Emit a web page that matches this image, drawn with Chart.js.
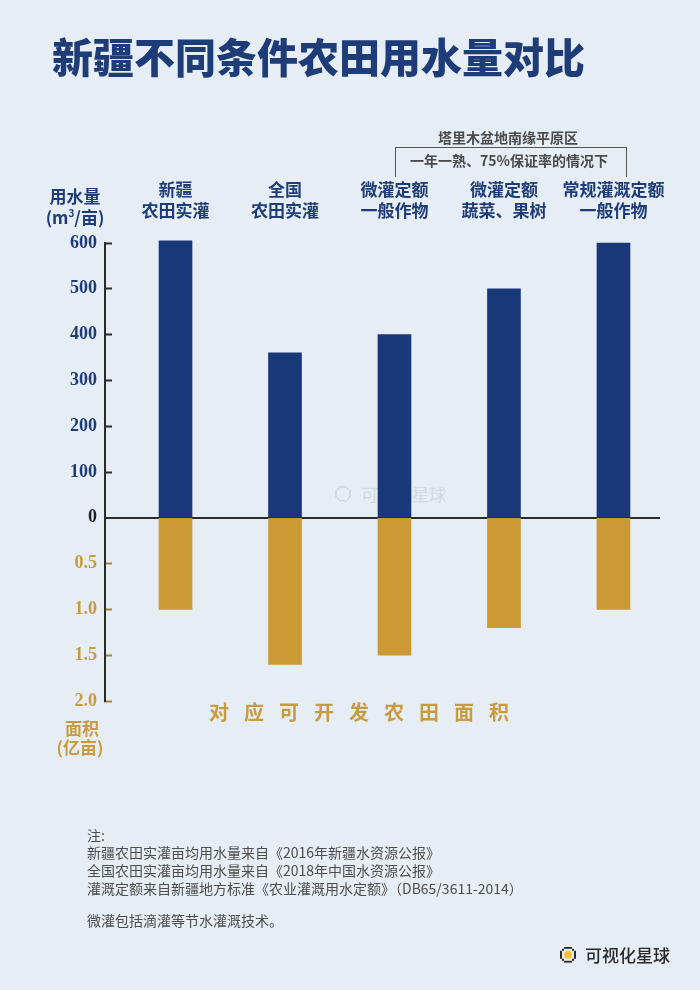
<!DOCTYPE html>
<html>
<head>
<meta charset="utf-8">
<script src="https://cdn.jsdelivr.net/npm/chart.js@4.4.1/dist/chart.umd.min.js"></script>
<style>
  html,body{margin:0;padding:0;background:#e6edf5;}
  #wrap{position:relative;width:700px;height:990px;overflow:hidden;background:#e6edf5;font-family:"Noto Sans CJK SC","Noto Sans",sans-serif;}
  #c{position:absolute;left:0;top:0;z-index:1;}
  .t{position:absolute;white-space:nowrap;line-height:1.2;z-index:2;}
  .cx{transform:translate(-50%,-50%);}
  .cy{transform:translateY(-50%);}
  .navy{color:#1d3c78;}
  .gold{color:#c89c3e;}
  .note{font-size:14px;color:#4d4d4d;left:87px;}
  #wm{z-index:0;}
</style>
</head>
<body>
<div id="wrap">
  <!-- watermark (behind bars) -->
  <div class="t cy" id="wm" style="left:335px;top:494px;font-size:17px;color:#d3d9e1;display:flex;align-items:center;gap:10px;">
    <svg width="16" height="16" viewBox="0 0 8 8"><g fill="#d3d9e1"><rect x="2" y="0" width="4" height="1"/><rect x="2" y="7" width="4" height="1"/><rect x="0" y="2" width="1" height="4"/><rect x="7" y="2" width="1" height="4"/><rect x="1" y="1" width="1" height="1"/><rect x="6" y="1" width="1" height="1"/><rect x="1" y="6" width="1" height="1"/><rect x="6" y="6" width="1" height="1"/></g></svg>
    <span>可视化星球</span>
  </div>

  <canvas id="c" width="700" height="990"></canvas>

  <div class="t cy navy" style="left:52px;top:56px;font-size:41px;font-weight:900;">新疆不同条件农田用水量对比</div>

  <div class="t cx" style="left:508px;top:137px;font-size:14px;font-weight:700;color:#4a4a4a;">塔里木盆地南缘平原区</div>
  <div style="position:absolute;left:395px;top:147px;width:230px;height:29px;border:1.5px solid #555;border-bottom:none;z-index:2;"></div>
  <div class="t cx" style="left:509px;top:160px;font-size:14px;font-weight:700;color:#4a4a4a;">一年一熟、75%保证率的情况下</div>

  <div class="t cx navy" style="left:75px;top:196px;font-size:17px;font-weight:700;">用水量</div>
  <div class="t cx navy" style="left:75px;top:217px;font-size:17px;font-weight:700;">(m<sup style="font-size:10px;">3</sup>/亩)</div>

  <div class="t cx gold" style="left:82px;top:728px;font-size:17px;font-weight:700;">面积</div>
  <div class="t cx gold" style="left:80px;top:747px;font-size:17px;font-weight:700;">(亿亩)</div>

  <div class="t cy gold" style="left:209px;top:712px;font-size:20px;font-weight:700;letter-spacing:15px;">对应可开发农田面积</div>

  <div class="t cy note" style="top:835px;">注:</div>
  <div class="t cy note" style="top:852px;">新疆农田实灌亩均用水量来自《2016年新疆水资源公报》</div>
  <div class="t cy note" style="top:870px;">全国农田实灌亩均用水量来自《2018年中国水资源公报》</div>
  <div class="t cy note" style="top:888px;">灌溉定额来自新疆地方标准《农业灌溉用水定额》（DB65/3611-2014）</div>
  <div class="t cy note" style="top:920px;">微灌包括滴灌等节水灌溉技术。</div>

  <div class="t cy" style="left:560px;top:955px;font-size:17px;color:#2a2a2a;font-weight:500;display:flex;align-items:center;gap:9px;">
    <svg width="16" height="16" viewBox="0 0 8 8"><g fill="#2a2a2a"><rect x="2" y="0" width="4" height="1"/><rect x="2" y="7" width="4" height="1"/><rect x="0" y="2" width="1" height="4"/><rect x="7" y="2" width="1" height="4"/><rect x="1" y="1" width="1" height="1"/><rect x="6" y="1" width="1" height="1"/><rect x="1" y="6" width="1" height="1"/><rect x="6" y="6" width="1" height="1"/></g><circle cx="4" cy="4" r="2" fill="#f2c230"/></svg>
    <span>可视化星球</span>
  </div>
</div>

<script>
// ---- data ----
const categories = [
  ['新疆', '农田实灌'],
  ['全国', '农田实灌'],
  ['微灌定额', '一般作物'],
  ['微灌定额', '蔬菜、果树'],
  ['常规灌溉定额', '一般作物']
];
const waterUse = [605, 360, 400, 500, 600];     // m³/亩
const farmArea = [1.0, 1.6, 1.5, 1.2, 1.0];     // 亿亩
const waterTickStep = 100;
const areaTickStep = 0.5;

// ---- styles ----
const NAVY = '#18387a';
const NAVY_TEXT = '#1d3c78';
const GOLD = '#cb9a35';
const GOLD_TEXT = '#c89c3e';
const AXIS = '#2b2b2b';
const numFont = {family: "'Liberation Serif', 'DejaVu Serif', serif", weight: 'bold', size: 18};

new Chart(document.getElementById('c'), {
  type: 'bar',
  data: {
    datasets: [
      {
        label: '用水量',
        data: waterUse.map((v, i) => ({x: i, y: v})),
        xAxisID: 'x', yAxisID: 'yW',
        backgroundColor: NAVY, barThickness: 33, grouped: false, clip: false
      },
      {
        label: '面积',
        data: farmArea.map((v, i) => ({x: i, y: v})),
        xAxisID: 'x', yAxisID: 'yA',
        backgroundColor: GOLD, barThickness: 33, grouped: false, clip: false
      }
    ]
  },
  options: {
    responsive: false,
    animation: false,
    layout: {padding: {left: 0, right: 40, top: 0, bottom: 289}},
    plugins: {legend: {display: false}, tooltip: {enabled: false}},
    scales: {
      x: {
        type: 'linear', position: 'top', bounds: 'data', offset: false,
        min: -0.644, max: 4.425,
        afterBuildTicks: s => { s.ticks = categories.map((c, i) => ({value: i})); },
        afterFit: s => { s.height = 243; },
        ticks: {
          callback: v => categories[v],
          color: NAVY_TEXT,
          font: {family: "'Noto Sans CJK SC'", weight: 'bold', size: 17, lineHeight: 21 / 17},
          padding: 21.5, autoSkip: false, maxRotation: 0
        },
        grid: {display: false, drawTicks: false, offset: false},
        border: {display: false}
      },
      yW: {
        type: 'linear', position: 'left', stack: 'v', stackWeight: 6, weight: 1,
        min: 0, max: 600,
        afterFit: s => { s.width = 105; },
        ticks: {
          stepSize: waterTickStep,
          color: c => (c.tick && c.tick.value === 0) ? '#222' : NAVY_TEXT,
          font: numFont, padding: 15
        },
        grid: {
          color: c => (c.tick && c.tick.value === 0) ? AXIS : 'rgba(0,0,0,0)',
          lineWidth: c => (c.tick && c.tick.value === 0) ? 2 : 1,
          tickColor: AXIS, tickWidth: 2, tickLength: -7
        },
        border: {display: true, color: AXIS, width: 2}
      },
      yA: {
        type: 'linear', position: 'left', stack: 'v', stackWeight: 4, weight: 0,
        min: 0, max: 2, reverse: true,
        afterFit: s => { s.width = 105; },
        ticks: {
          stepSize: areaTickStep,
          callback: v => v === 0 ? '' : Number(v).toFixed(1),
          color: GOLD_TEXT, font: numFont, padding: 15
        },
        grid: {
          color: 'rgba(0,0,0,0)',
          tickColor: c => (c.tick && c.tick.value === 0) ? 'rgba(0,0,0,0)' : '#a8843a',
          tickWidth: 2, tickLength: -7
        },
        border: {display: true, color: AXIS, width: 2}
      }
    }
  }
});
</script>
</body>
</html>
